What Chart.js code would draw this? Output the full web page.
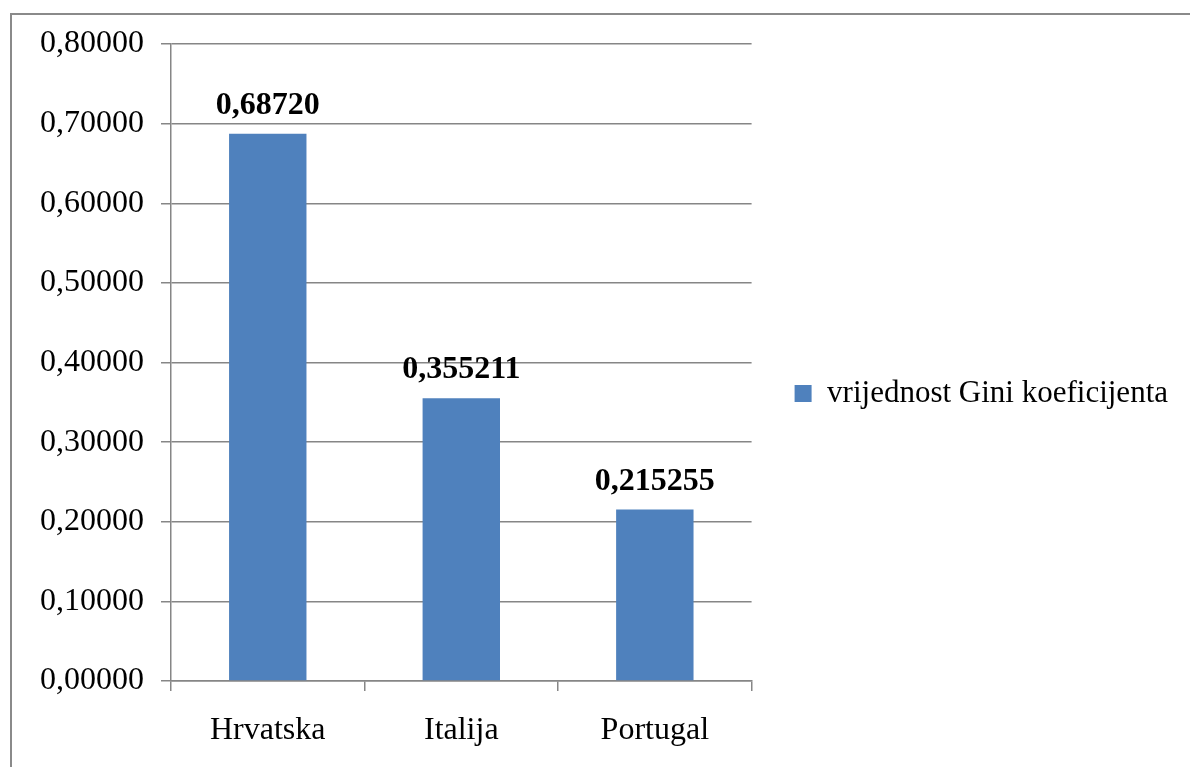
<!DOCTYPE html>
<html>
<head>
<meta charset="utf-8">
<script src="https://cdn.jsdelivr.net/npm/chart.js@4.4.1/dist/chart.umd.min.js"></script>
<style>
    html, body { margin: 0; padding: 0; background: #fff; overflow: hidden; }
    #wrap { position: relative; width: 1190px; height: 767px; }
    #frame {
        position: absolute; left: 10px; top: 13px; width: 1300px; height: 900px;
        border-top: 2px solid #8a8a8a; border-left: 2px solid #8a8a8a;
    }
    canvas { position: absolute; left: 0; top: 0; }
</style>
</head>
<body>
<div id="wrap">
    <div id="frame"></div>
    <canvas id="gini-chart" width="1190" height="767"></canvas>
</div>
<script>
// =============================
// GINI KOEFICIJENT - DATA
// =============================
const countries = ['Hrvatska', 'Italija', 'Portugal'];
const giniValues = [0.6872, 0.355211, 0.215255];
const giniLabels = ['0,68720', '0,355211', '0,215255'];
const seriesName = 'vrijednost Gini koeficijenta';

const barColor = '#4F81BD';
const axisColor = '#868686';
const fontFamily = "'Liberation Serif', 'Times New Roman', serif";

// bold value labels above each bar
const valueLabelsPlugin = {
    id: 'valueLabels',
    afterDatasetsDraw(chart) {
        const ctx = chart.ctx;
        const meta = chart.getDatasetMeta(0);
        ctx.save();
        ctx.font = "bold 32px " + fontFamily;
        ctx.fillStyle = '#000';
        ctx.textAlign = 'center';
        ctx.textBaseline = 'alphabetic';
        meta.data.forEach((bar, i) => {
            ctx.fillText(giniLabels[i], bar.x, bar.y - 20);
        });
        ctx.restore();
    }
};

// legend sits a bit above the vertical middle in the original
const legendNudgePlugin = {
    id: 'legendNudge',
    afterLayout(chart) {
        if (chart.legend) {
            chart.legend.top -= 12;
            chart.legend.bottom -= 12;
        }
    }
};

const ctx = document.getElementById('gini-chart').getContext('2d');
new Chart(ctx, {
    type: 'bar',
    data: {
        labels: countries,
        datasets: [{
            label: seriesName,
            data: giniValues,
            backgroundColor: barColor,
            borderWidth: 0,
            categoryPercentage: 1.0,
            barPercentage: 0.4
        }]
    },
    options: {
        responsive: false,
        animation: false,
        layout: { padding: { top: 44, left: 0, right: 12, bottom: 0 } },
        scales: {
            y: {
                min: 0,
                max: 0.8,
                afterFit(scale) { scale.width = 171; },
                ticks: {
                    stepSize: 0.1,
                    padding: 17,
                    color: '#000',
                    font: { family: fontFamily, size: 32 },
                    callback: (v) => Number(v).toFixed(5).replace('.', ',')
                },
                grid: { color: axisColor, lineWidth: 1.5, tickLength: 10 },
                border: { color: axisColor, width: 1.5 }
            },
            x: {
                afterFit(scale) { scale.height = 86; },
                ticks: {
                    padding: 20,
                    color: '#000',
                    font: { family: fontFamily, size: 32 }
                },
                grid: { drawOnChartArea: false, color: axisColor, lineWidth: 1.5, tickLength: 10, offset: true },
                border: { color: axisColor, width: 1.5 }
            }
        },
        plugins: {
            legend: {
                position: 'right',
                maxWidth: 600,
                labels: {
                    boxWidth: 17,
                    boxHeight: 17,
                    padding: 43,
                    color: '#000',
                    font: { family: fontFamily, size: 31 }
                }
            },
            tooltip: { enabled: false }
        }
    },
    plugins: [valueLabelsPlugin, legendNudgePlugin]
});
</script>
</body>
</html>
